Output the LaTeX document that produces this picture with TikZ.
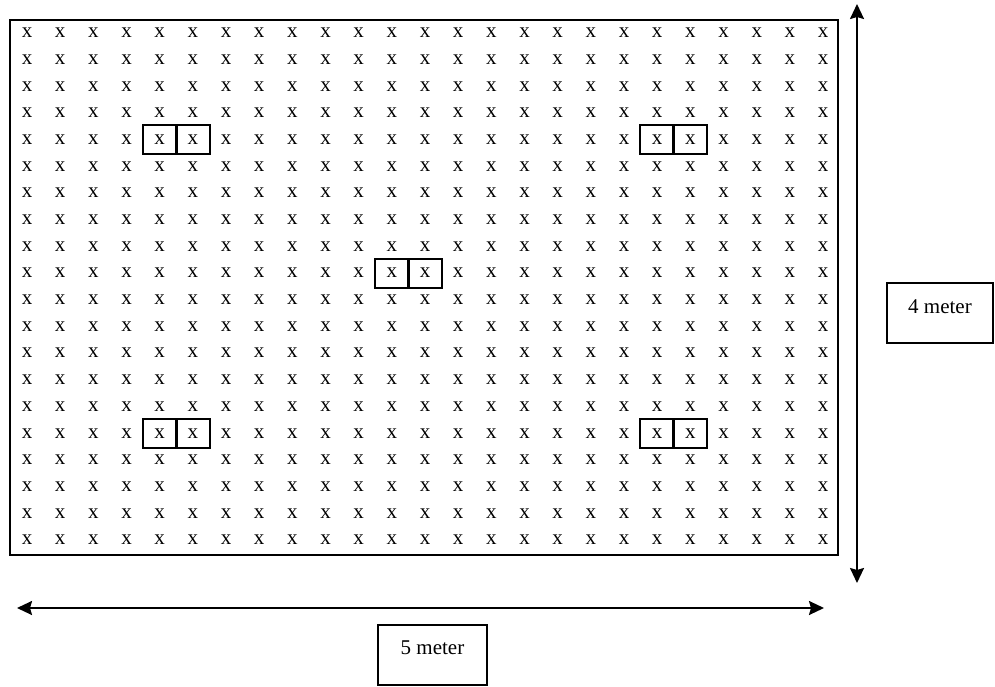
\documentclass[tikz,border=0pt]{standalone}
\usepackage{fontspec}
\setmainfont{Liberation Serif}
\usetikzlibrary{arrows.meta}
\begin{document}
\begin{tikzpicture}[x=1pt,y=-1pt,
  every node/.style={font=\fontsize{21}{24}\selectfont},
  xmark/.style={inner sep=0pt},
  cellbox/.style={draw,line width=2pt,minimum width=34pt,minimum height=29pt,inner sep=0pt},
  frame/.style={draw,line width=2.4pt},
  dimarrow/.style={line width=2pt,{Stealth[length=15pt,width=14pt,inset=2pt]}-{Stealth[length=15pt,width=14pt,inset=2pt]}},
  labelbox/.style={draw,line width=2pt,text height=20pt,text depth=20pt,inner ysep=10pt,inner xsep=0pt}]
\useasboundingbox (0,0) rectangle (995,687);
% outer frame
\node[frame,minimum width=828pt,minimum height=535pt,anchor=north west,inner sep=0pt] (field) at (9,19) {};
% grid of x
\foreach \r in {0,...,19}{
  \foreach \c in {0,...,24}{
    \node[xmark] (x-\r-\c) at ({27+33.17*\c},{33+26.68*\r}) {x};
  }
}
% boxed cells
\foreach \r/\c in {4/4,4/5,4/19,4/20,9/11,9/12,15/4,15/5,15/19,15/20}{
  \node[cellbox] (b-\r-\c) at (x-\r-\c) {};
}
% dimension arrows
\coordinate (vtop) at (857,4);
\coordinate (vbot) at (857,583);
\draw[dimarrow] (vtop) -- (vbot);
\coordinate (hl) at (17,608);
\coordinate (hr) at (824,608);
\draw[dimarrow] (hl) -- (hr);
% labels
\node[labelbox,minimum width=106pt] (m4) at (940,313) {4 meter};
\node[labelbox,minimum width=109pt] (m5) at (432.5,654.5) {5 meter};
\end{tikzpicture}
\end{document}
